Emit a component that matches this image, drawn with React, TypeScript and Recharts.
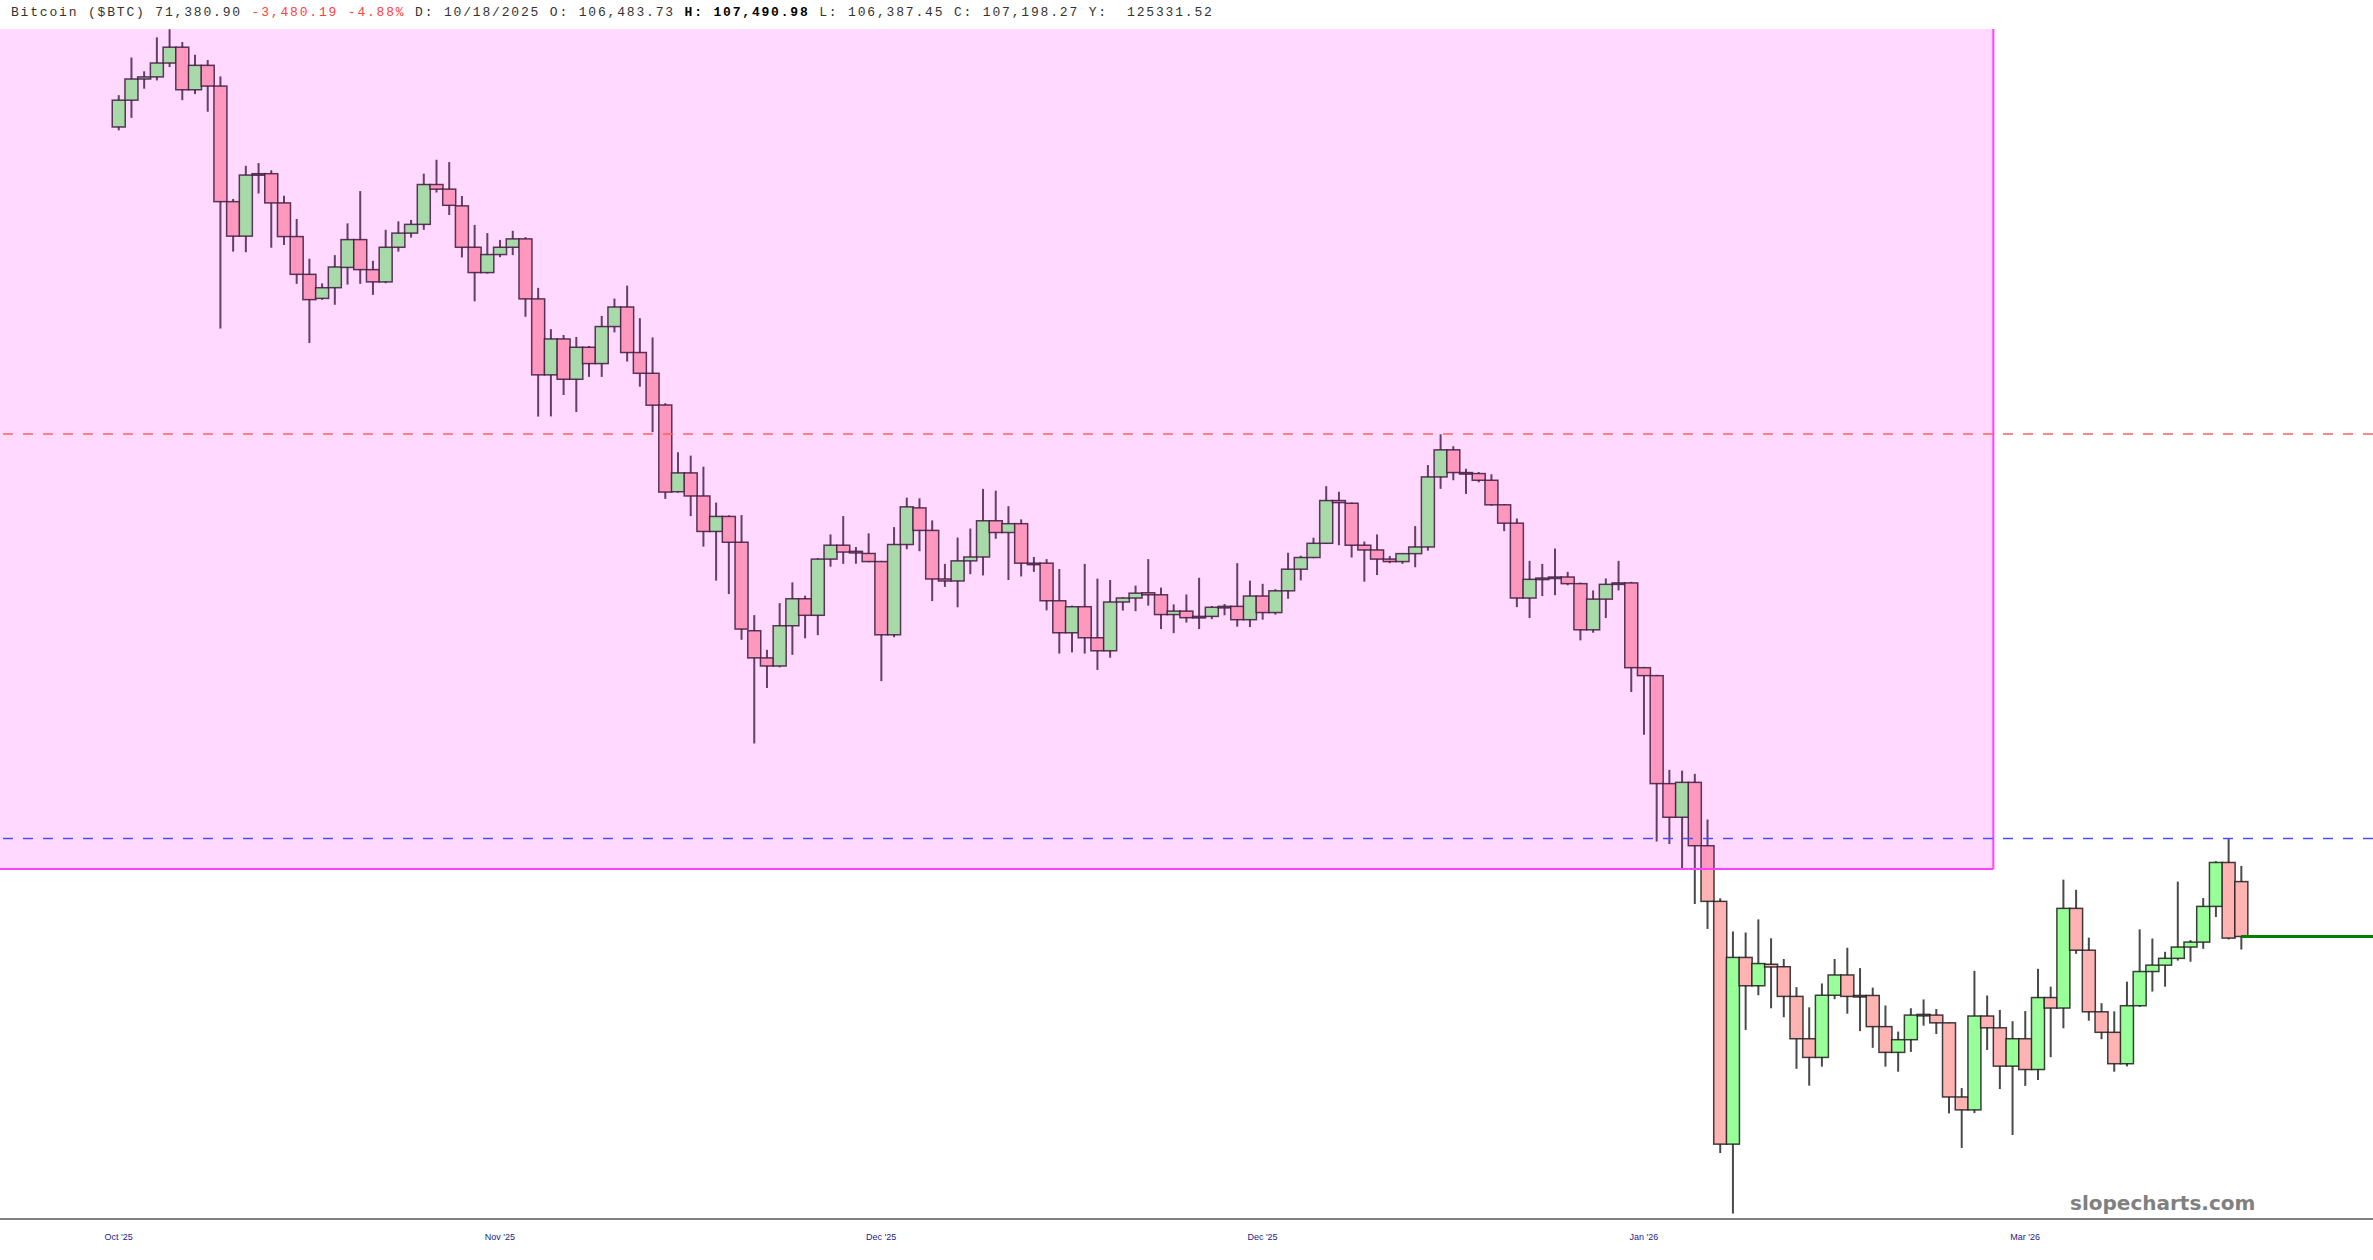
import { ComposedChart, Bar, XAxis, YAxis, ReferenceArea, ReferenceLine } from 'recharts';

// Daily BTC candles, Oct 2 2025 → Mar 18 2026
const OPEN = [
  118560, 120570, 122180, 122340, 123410, 124640, 121360, 123230, 121640, 113140,
  110720, 115040, 115140, 113050, 110690, 108100, 106483.73, 107200, 108570, 110480,
  108420, 107590, 109950, 110930, 111540, 114360, 114030, 112840, 109950, 108220,
  109450, 109950, 110530, 106450, 101500, 103810, 101220, 103270, 102220, 104620,
  105910, 102930, 101600, 99600, 94330, 95450, 94080, 92010, 92880, 91390,
  86460, 85000, 84570, 86730, 88210, 87300, 90430, 91220, 90870, 90750,
  90290, 86240, 91260, 93380, 92070, 89310, 89200, 90330, 90550, 92630,
  91950, 92460, 90200, 90200, 88100, 86350, 87770, 86080, 85380, 88030,
  88250, 88540, 88430, 87340, 87530, 87240, 87240, 87740, 87790, 87060,
  88360, 87450, 88650, 89860, 90520, 91330, 93810, 93650, 91220, 90950,
  90430, 90290, 90740, 91120, 95210, 96840, 95470, 95410, 95010, 93560,
  92490, 88250, 89290, 89360, 89420, 89050, 86510, 88190, 89010, 89090,
  84480, 84060, 78560, 76920, 78620, 75560, 72970, 62670, 70450, 69210,
  70150, 70040, 68750, 66950, 66170, 68800, 69680, 68790, 68790, 67460,
  66380, 66910, 67980, 67950, 67620, 64550, 64030, 67910, 67410, 65810,
  66950, 65670, 68700, 68250, 72650, 70770, 68090, 67220, 65910, 68350,
  69830, 70110, 70410, 70910, 71130, 72740, 74770, 73880,
];
const HIGH = [
  120950, 123840, 122770, 125410, 126050, 125050, 124050, 123640, 122380, 113330,
  115710, 115910, 115390, 113560, 111920, 109160, 107490.98, 109410, 111610, 113890,
  109020, 111160, 111750, 111850, 115140, 116150, 115980, 113540, 111500, 110930,
  110460, 111090, 110650, 107190, 104450, 104070, 103940, 103350, 105320, 106470,
  107340, 105170, 103910, 99710, 96690, 96490, 95820, 93690, 92950, 92960,
  87310, 85430, 87970, 89120, 88380, 90490, 91840, 92900, 91120, 91900,
  90330, 92260, 93980, 93940, 92650, 90160, 91660, 92180, 94500, 94390,
  93480, 92710, 90550, 90430, 89870, 87830, 90160, 89330, 89250, 88300,
  88940, 90430, 88830, 87900, 88450, 89380, 87810, 87920, 90200, 89220,
  89040, 88740, 90790, 90620, 91650, 94660, 94330, 93700, 91430, 91840,
  90600, 90760, 92320, 95920, 97790, 97060, 95700, 95500, 95370, 93600,
  92760, 90330, 90160, 91030, 89710, 89110, 88670, 89340, 90330, 89150,
  84520, 84100, 79240, 79200, 79040, 76810, 73110, 71610, 71560, 72150,
  71300, 70380, 69150, 68280, 69310, 70380, 70880, 69980, 69130, 68360,
  67250, 68240, 68620, 68210, 67650, 64910, 69860, 68790, 68170, 67690,
  68120, 69950, 69170, 73970, 73500, 71330, 68460, 68110, 69390, 71700,
  71290, 70700, 73880, 71220, 73120, 74830, 75920, 74610,
];
const LOW = [
  118310, 119240, 121440, 122070, 123100, 120570, 121030, 119700, 104490, 109650,
  109610, 113720, 109920, 110110, 107460, 103550, 106387.45, 106060, 107410, 107460,
  106720, 107500, 109650, 110620, 111160, 113790, 112200, 109250, 106290, 108150,
  109270, 109410, 105260, 98880, 98890, 100230, 99160, 101370, 101370, 104240,
  102350, 100750, 97920, 93910, 94280, 92900, 91140, 89220, 88470, 85970,
  80560, 83410, 84500, 85160, 86050, 86220, 90000, 90160, 90170, 90250,
  83770, 86110, 90990, 90880, 88080, 88870, 87740, 89580, 89510, 91590,
  89250, 89450, 89710, 87570, 85230, 85290, 85230, 84360, 85010, 87560,
  87530, 87830, 86550, 86330, 86900, 86550, 87090, 87300, 86680, 86660,
  87060, 87340, 88210, 89230, 90480, 91300, 91220, 90520, 89160, 89530,
  90200, 90160, 89970, 90910, 94500, 95010, 94200, 94890, 93500, 92030,
  87750, 87150, 88360, 88410, 88960, 85940, 86350, 87150, 88670, 83200,
  81000, 75760, 75640, 74500, 72850, 71720, 62320, 60000, 67320, 68800,
  68240, 67860, 65700, 65010, 65790, 68630, 68010, 67270, 66570, 65790,
  65580, 66400, 67500, 67150, 63890, 62520, 63900, 66480, 64870, 63030,
  65000, 65240, 66180, 67390, 70610, 67710, 66930, 65580, 65800, 68300,
  68960, 69170, 70310, 70260, 70830, 72260, 71250, 70800,
];
const CLOSE = [
  120570, 122180, 122340, 123410, 124640, 121360, 123230, 121640, 113140, 110720,
  115040, 115140, 113050, 110690, 108100, 106400, 107198.27, 108600, 110480, 108420,
  107590, 109950, 110930, 111540, 114360, 114030, 112880, 109950, 108220, 109450,
  109950, 110530, 106450, 101500, 103810, 101220, 103270, 102220, 104620, 105910,
  102930, 101600, 99590, 94310, 95450, 94080, 92010, 92880, 91390, 86550,
  85000, 84570, 86730, 88210, 87300, 90430, 91220, 90830, 90780, 90290,
  86240, 91260, 93440, 92070, 89310, 89200, 90330, 90550, 92630, 91950,
  92460, 90200, 90140, 88100, 86350, 87770, 86080, 85380, 88030, 88250,
  88520, 88430, 87340, 87530, 87170, 87170, 87740, 87790, 87060, 88360,
  87450, 88650, 89860, 90520, 91330, 93810, 93690, 91220, 90950, 90430,
  90290, 90740, 91120, 95210, 96840, 95470, 95410, 95010, 93560, 92490,
  88250, 89290, 89360, 89420, 89050, 86510, 88190, 89010, 89090, 84480,
  84060, 78560, 76920, 78620, 75560, 72970, 62670, 70450, 69210, 70180,
  70030, 68750, 66950, 66170, 68800, 69680, 68750, 68750, 67460, 66380,
  66910, 67950, 67950, 67620, 64550, 64030, 67910, 67410, 65810, 66950,
  65670, 68700, 68250, 72650, 70770, 68090, 67220, 65910, 68350, 69830,
  70110, 70410, 70910, 71130, 72740, 74770, 71310, 71380.9,
];

const X_TICKS = [0, 30, 60, 90, 120, 150];
const X_TICK_LABELS = ["Oct '25", "Nov '25", "Dec '25", "Dec '25", "Jan '26", "Mar '26"];
const Y_TICKS = [65000, 70000, 75000, 80000, 85000, 90000, 95000, 100000, 105000, 110000, 115000, 120000, 125000];

const RESISTANCE = 97800;
const SUPPORT = 75900;
const LAST_PRICE = 71380.9;
const ZONE_BOTTOM = 74470;
const ZONE_END = 147.5;

const W = 2373;
const H = 1260;
const X_MIN = -9.331;
const X_MAX = 177.37;
const Y_MIN = 59797;
const Y_MAX = 126070;

const data = OPEN.map((o, i) => ({
  i,
  o,
  h: HIGH[i],
  l: LOW[i],
  c: CLOSE[i],
  range: [LOW[i], HIGH[i]],
}));

// body + wick; open/close placed between the bar's high/low pixels on the log scale
function Candle(props: any) {
  const { x, y, width, height, payload } = props;
  if (!payload || x == null || y == null) return null;
  const { o, h, l, c } = payload;
  const yHigh = Math.min(y, y + height);
  const yLow = Math.max(y, y + height);
  const lh = Math.log(h);
  const span = lh - Math.log(l);
  const k = span > 0 ? (yLow - yHigh) / span : 0;
  const yo = yHigh + (lh - Math.log(o)) * k;
  const yc = yHigh + (lh - Math.log(c)) * k;
  const up = c >= o;
  const top = Math.min(yo, yc);
  const bh = Math.max(Math.abs(yc - yo), 1.5);
  const cx = x + width / 2;
  return (
    <g>
      <line x1={cx} x2={cx} y1={yHigh} y2={yLow} stroke="#4a4a4a" strokeWidth={2} />
      <rect
        x={x}
        y={top}
        width={width}
        height={bh}
        fill={up ? '#99ff99' : '#ffb3b3'}
        stroke="#1e1e1e"
        strokeOpacity={0.85}
        strokeWidth={1.5}
      />
    </g>
  );
}

// translucent zone, border only on right and bottom edges
function Zone(props: any) {
  const { x, y, width, height } = props;
  if (x == null) return null;
  return (
    <g>
      <rect x={x} y={y} width={width} height={height} fill="#ff00ff" fillOpacity={0.15} />
      <line x1={x} x2={x + width} y1={y + height} y2={y + height} stroke="#ff40ff" strokeWidth={2} />
      <line x1={x + width} x2={x + width} y1={y} y2={y + height} stroke="#ff40ff" strokeWidth={2} />
    </g>
  );
}

const labelColor = '#1c1c8a';

export default function App() {
  return (
    <div style={{ position: 'relative', width: W, height: H, background: '#fff' }}>
      <style>{'body{margin:0}'}</style>
      <ComposedChart
        width={W}
        height={H}
        data={data}
        margin={{ top: 29, right: 0, bottom: 0, left: 0 }}
        barCategoryGap={0}
        barGap={0}
      >
        <XAxis
          dataKey="i"
          type="number"
          domain={[X_MIN, X_MAX]}
          allowDataOverflow
          ticks={X_TICKS}
          interval={0}
          tickFormatter={(v) => X_TICK_LABELS[X_TICKS.indexOf(Number(v))] ?? ''}
          height={41}
          tickLine={false}
          tickSize={0}
          tickMargin={15}
          axisLine={{ stroke: '#808080', strokeWidth: 2 }}
          tick={{ fontSize: 9, fill: labelColor, fontFamily: 'Liberation Sans, Arial, sans-serif' }}
        />
        <YAxis
          orientation="right"
          mirror
          width={0}
          scale="log"
          domain={[Y_MIN, Y_MAX]}
          allowDataOverflow
          ticks={Y_TICKS}
          interval={0}
          axisLine={false}
          tickLine={false}
          tickSize={0}
          tickMargin={10}
          tick={{ fontSize: 9, fill: labelColor, fontFamily: 'Liberation Sans, Arial, sans-serif' }}
        />
        <Bar dataKey="range" shape={Candle} isAnimationActive={false} />
        <ReferenceArea
          x1={X_MIN}
          x2={ZONE_END}
          y1={ZONE_BOTTOM}
          y2={Y_MAX}
          ifOverflow="visible"
          shape={Zone}
          zIndex={600}
        />
        <ReferenceLine y={RESISTANCE} stroke="#ff6060" strokeDasharray="10 10" strokeWidth={1.5} zIndex={650} />
        <ReferenceLine y={SUPPORT} stroke="#4d4dff" strokeDasharray="10 10" strokeWidth={1.5} zIndex={650} />
        <ReferenceLine
          segment={[
            { x: data.length - 1, y: LAST_PRICE },
            { x: X_MAX, y: LAST_PRICE },
          ]}
          stroke="#008000"
          strokeWidth={3}
          zIndex={650}
        />
      </ComposedChart>

      <div
        style={{
          position: 'absolute',
          left: 11,
          top: 5,
          fontFamily: "'Liberation Mono', 'Courier New', monospace",
          fontSize: 13,
          lineHeight: '16px',
          letterSpacing: '1.82px',
          whiteSpace: 'pre',
          color: '#333',
        }}
      >
        Bitcoin ($BTC) 71,380.90 <span style={{ color: '#ff4040' }}>-3,480.19 -4.88%</span> D: 10/18/2025 O: 106,483.73{' '}
        <b style={{ color: '#000' }}>H: 107,490.98</b> L: 106,387.45 C: 107,198.27 Y:  125331.52
      </div>

      <div
        style={{
          position: 'absolute',
          left: 2070,
          top: 1190,
          fontFamily: "'DejaVu Sans', Verdana, sans-serif",
          fontWeight: 'bold',
          fontSize: 20,
          lineHeight: '26px',
          color: '#808080',
        }}
      >
        slopecharts.com
      </div>
    </div>
  );
}
